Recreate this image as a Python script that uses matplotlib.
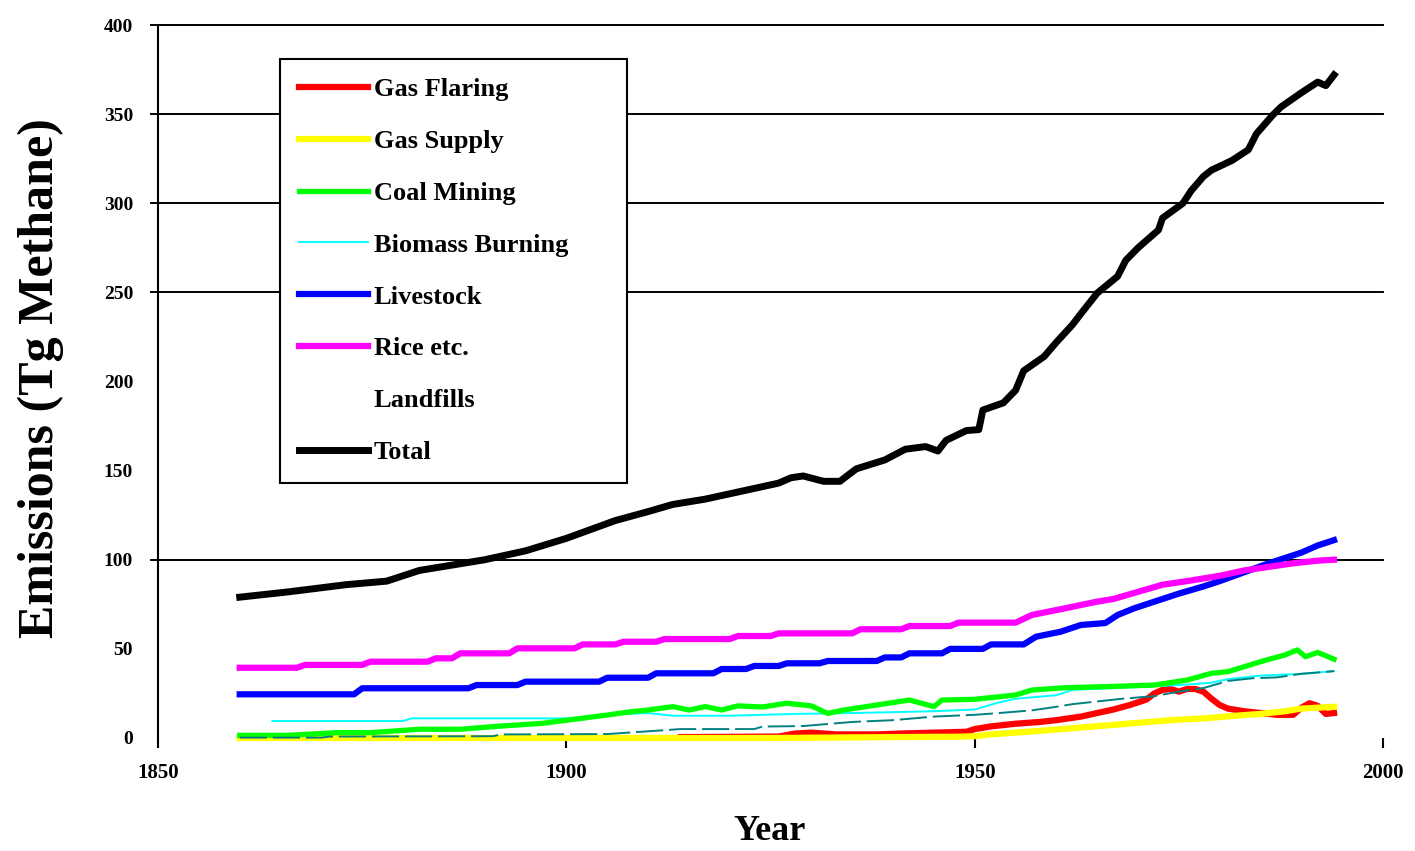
import matplotlib
matplotlib.use('Agg')
import matplotlib.pyplot as plt

# Font setup: bold serif like the original
plt.rcParams['font.family'] = 'serif'
plt.rcParams['font.serif'] = ['Liberation Serif', 'DejaVu Serif']
plt.rcParams['font.weight'] = 'bold'

# Data (Tg methane per year)
gas_flaring_years = [1914, 1926, 1928, 1930, 1933, 1938, 1941, 1945, 1949, 1950, 1952, 1955,
                     1958, 1960, 1963, 1965, 1967, 1969, 1971, 1972, 1973, 1974, 1975, 1976,
                     1977, 1978, 1979, 1980, 1981, 1983, 1985, 1987, 1989, 1990, 1991, 1992,
                     1993, 1994]
gas_flaring = [0.5, 0.8, 2.5, 3, 2, 2, 2.5, 3, 3.5, 5, 6.5, 8,
               9, 10, 12, 14, 16, 18.5, 21.5, 25, 27, 27.5, 26, 27.5,
               27.5, 26, 22, 18.5, 16.5, 15, 14, 13, 13, 17, 19.5, 18,
               13.5, 14]

gas_supply_years = [1860, 1925, 1940, 1948, 1950, 1952, 1955, 1958, 1962, 1966, 1970, 1974,
                    1978, 1982, 1985, 1988, 1990, 1994]
gas_supply = [0, 0, 0.5, 0.7, 1, 2, 3, 4, 5.5, 7, 8.5, 10,
              11, 12.5, 13.5, 15, 16.5, 17.5]

coal_years = [1860, 1866, 1872, 1876, 1882, 1887, 1892, 1897, 1901, 1905, 1908, 1910,
              1913, 1915, 1917, 1919, 1921, 1924, 1927, 1930, 1932, 1934, 1938, 1942,
              1945, 1946, 1950, 1955, 1957, 1961, 1966, 1972, 1976, 1979, 1981, 1983,
              1985, 1988, 1989.5, 1990.5, 1992, 1994]
coal = [1.5, 1.5, 3, 3, 4.9, 4.9, 6.7, 8.2, 10.5, 12.9, 14.8, 15.7,
        17.6, 15.7, 17.6, 15.7, 18, 17.4, 19.5, 18, 13.8, 15.7, 18.5, 21.3,
        17.6, 21.3, 21.7, 24.1, 26.9, 28.2, 28.8, 29.7, 32.5, 36.3, 37.2, 40,
        42.8, 46.6, 49.4, 45.6, 48, 44.2]

biomass_years = [1864, 1880, 1881, 1900, 1905, 1910, 1913, 1920, 1928, 1935, 1945, 1950,
                 1953, 1955, 1960, 1962, 1967, 1972, 1976, 1979, 1981, 1985, 1990, 1994]
biomass = [9.5, 9.5, 11, 11, 13, 14, 12.5, 12.5, 13.5, 14, 15, 16,
           20, 22, 24, 27, 28, 29, 30, 31, 33, 35, 36, 37.5]

livestock_years = [1860, 1874, 1875, 1888, 1889, 1894, 1895, 1904, 1905, 1910, 1911, 1918,
                   1919, 1922, 1923, 1926, 1927, 1931, 1932, 1938, 1939, 1941, 1942, 1946,
                   1947, 1951, 1952, 1956, 1957.5, 1960.5, 1963, 1966, 1967.5, 1969.5, 1972,
                   1975, 1978, 1980, 1983, 1986, 1988, 1990, 1992, 1994]
livestock = [24.5, 24.5, 27.9, 27.9, 29.7, 29.7, 31.6, 31.6, 33.8, 33.8, 36.3, 36.3,
             38.7, 38.7, 40.4, 40.4, 41.9, 41.9, 43.2, 43.2, 45.2, 45.2, 47.5, 47.5,
             50, 50, 52.5, 52.5, 56.8, 59.6, 63.4, 64.5, 69, 72.7, 76.5,
             81, 85, 88, 93, 98, 101, 104, 108, 111]

rice_years = [1860, 1867, 1868, 1875, 1876, 1883, 1884, 1886, 1887, 1893, 1894, 1901,
              1902, 1906, 1907, 1911, 1912, 1920, 1921, 1925, 1926, 1935, 1936, 1941,
              1942, 1947, 1948, 1955, 1957, 1961, 1965, 1967, 1970, 1973, 1976, 1980,
              1983, 1986, 1989, 1992, 1994]
rice = [39.4, 39.4, 41, 41, 42.8, 42.8, 44.7, 44.7, 47.5, 47.5, 50.3, 50.3,
        52.5, 52.5, 54, 54, 55.5, 55.5, 57.2, 57.2, 58.7, 58.7, 61, 61,
        62.8, 62.8, 64.7, 64.7, 69, 72.7, 76.5, 78, 82, 86, 88, 91,
        94, 96, 98, 99.5, 100]

landfill_years = [1860, 1870, 1871, 1891, 1892, 1905, 1914, 1923, 1924, 1929, 1935, 1940,
                  1945, 1950, 1953, 1957, 1960, 1962, 1965, 1968, 1972, 1975, 1978, 1981,
                  1984, 1987, 1990, 1994]
landfills = [0.2, 0.2, 0.8, 1, 2, 2.2, 5, 5, 6.4, 6.7, 9, 10,
             12, 13, 14, 15.5, 17.5, 19, 20.5, 22, 23.5, 26, 28, 32,
             33.5, 34, 36, 37.5]

total_years = [1860, 1866, 1873, 1878, 1882, 1886, 1890, 1895, 1900, 1903, 1906, 1910,
               1913, 1917, 1920, 1923, 1926, 1927.5, 1929, 1931.5, 1933.5, 1935.5, 1939,
               1941.5, 1944, 1945.5, 1946.5, 1949, 1950.5, 1951, 1953.5, 1955, 1956,
               1958.5, 1960, 1962, 1963, 1965, 1967.5, 1968.5, 1970, 1972.5, 1973, 1975.5,
               1976.5, 1978, 1979, 1981.5, 1983.5, 1984.5, 1986.5, 1987.5, 1990, 1992,
               1993, 1994]
total = [79, 82, 86, 88, 94, 97, 100, 105, 112, 117, 122, 127,
         131, 134, 137, 140, 143, 146, 147, 144, 144, 151, 156,
         162, 163.5, 161, 167, 172.5, 173, 184, 188, 195, 206,
         214, 222, 232, 238, 249.6, 259, 268, 275, 285, 291.7, 300,
         307, 315, 318.6, 324, 330, 339, 349.5, 354, 362, 368,
         366, 372]

grid_levels = [100, 250, 300, 350, 400]

fig = plt.figure(figsize=(14.15, 8.51), dpi=100)
ax = fig.add_axes([0.1117, 0.1328, 0.8657, 0.8378])

# horizontal rules only at some levels, like the original
for v in grid_levels:
	ax.axhline(v, xmin=-0.006, xmax=1, color='black', lw=1.4, clip_on=False, zorder=1)

l_red, = ax.plot(gas_flaring_years, gas_flaring, color='#ff0000', lw=4.5, label='Gas Flaring', clip_on=False, zorder=3)
l_yel, = ax.plot(gas_supply_years, gas_supply, color='#ffff00', lw=4.5, label='Gas Supply', clip_on=False, zorder=4)
l_grn, = ax.plot(coal_years, coal, color='#00ff00', lw=3.8, label='Coal Mining', clip_on=False, zorder=5)
l_cyn, = ax.plot(biomass_years, biomass, color='#00ffff', lw=1.4, label='Biomass Burning', clip_on=False, zorder=4)
l_blu, = ax.plot(livestock_years, livestock, color='#0000ff', lw=4.5, label='Livestock', clip_on=False, zorder=5)
l_mag, = ax.plot(rice_years, rice, color='#ff00ff', lw=4.5, label='Rice etc.', clip_on=False, zorder=5)
l_lf, = ax.plot(landfill_years, landfills, color='#008080', lw=1.4, dashes=(14, 3), label='Landfills', clip_on=False, zorder=6)
l_tot, = ax.plot(total_years, total, color='black', lw=5, label='Total', clip_on=False, zorder=7)

ax.set_xlim(1850, 2000)
ax.set_ylim(0, 400)
ax.set_xticks([1850, 1900, 1950, 2000])
ax.set_yticks(range(0, 401, 50))

for s in ['top', 'right', 'bottom']:
	ax.spines[s].set_visible(False)
ax.spines['left'].set_linewidth(1.5)

ax.tick_params(axis='y', length=0, pad=18, labelsize=14)
ax.tick_params(axis='x', length=7, width=1.5, pad=11, labelsize=15)

ax.set_xlabel('Year', fontsize=26, fontweight='bold')
ax.xaxis.set_label_coords(0.4996, -0.108)
ax.set_ylabel('Emissions (Tg Methane)', fontsize=36, fontweight='bold')
ax.yaxis.set_label_coords(-0.077, 0.505)

leg = ax.legend(handles=[l_red, l_yel, l_grn, l_cyn, l_blu, l_mag, l_lf, l_tot],
				loc='upper left', bbox_to_anchor=(0.0996, 0.3576, 0.2833, 0.5947),
				mode='expand', borderaxespad=0,
				fontsize=19, fancybox=False, framealpha=1, edgecolor='black',
				handlelength=2.65, handletextpad=0.2, labelspacing=1.077, borderpad=0.7)
leg.get_frame().set_linewidth(1.5)
leg.set_zorder(10)
# landfills has no visible key in the original
leg.legend_handles[6].set_alpha(0)

fig.savefig('out.png', dpi=100)
